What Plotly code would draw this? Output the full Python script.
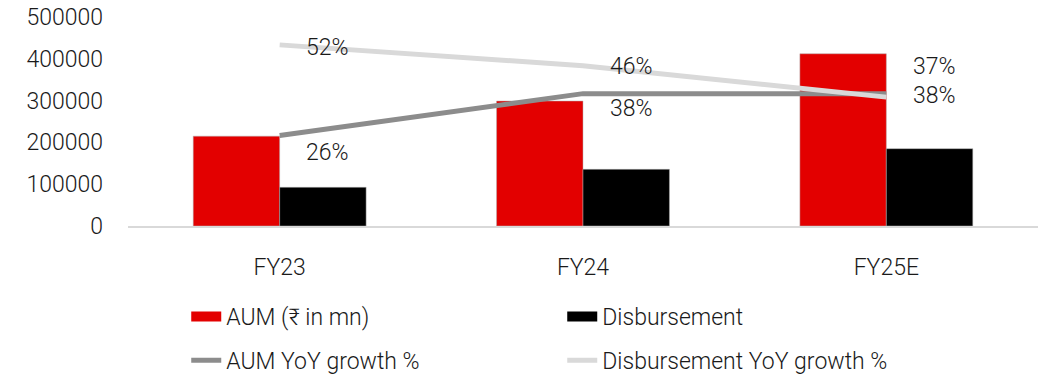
import plotly.graph_objects as go


# === Data ===

years = ["FY23", "FY24", "FY25E"]
aum = [215000, 299000, 412000]
disbursement = [92600, 135600, 185000]
aum_growth = [0.26, 0.38, 0.38]
disb_growth = [0.52, 0.46, 0.37]

# label offsets (px) for the growth labels: (xshift, yshift)
aum_label_shift = [(48, -17), (48, -15), (48, -2)]
disb_label_shift = [(48, -3), (48, -1), (48, 31)]


# === Figure ===

FONT = dict(family="Roboto, Liberation Sans, Arial, sans-serif", size=23,
            color="#1a1a1a", weight=300)

fig = go.Figure()

fig.add_trace(go.Bar(
    x=years, y=aum, name="AUM (₹ in mn)", showlegend=False,
    marker=dict(color="#E30000", line=dict(color="#b0b0b0", width=0.5)),
))
fig.add_trace(go.Bar(
    x=years, y=disbursement, name="Disbursement", showlegend=False,
    marker=dict(color="#000000", line=dict(color="#b0b0b0", width=0.5)),
))

# legend swatches drawn as wide flat rectangles, like the source
fig.add_trace(go.Scatter(
    x=[None], y=[None], name="AUM (₹ in mn)", mode="lines",
    line=dict(color="#E30000", width=14), legend="legend",
))
fig.add_trace(go.Scatter(
    x=[None], y=[None], name="Disbursement", mode="lines",
    line=dict(color="#000000", width=14), legend="legend",
))

fig.add_trace(go.Scatter(
    x=years, y=aum_growth, name="AUM YoY growth %", yaxis="y2",
    mode="lines", line=dict(color="#8C8C8C", width=5),
    legend="legend2",
))
fig.add_trace(go.Scatter(
    x=years, y=disb_growth, name="Disbursement YoY growth %", yaxis="y2",
    mode="lines", line=dict(color="#D9D9D9", width=5),
    legend="legend2",
))

annotations = []
for vals, shifts in ((aum_growth, aum_label_shift), (disb_growth, disb_label_shift)):
    for yr, v, (dx, dy) in zip(years, vals, shifts):
        annotations.append(dict(
            x=yr, y=v, xref="x", yref="y2", text=f"{round(v * 100)}%",
            showarrow=False, xshift=dx, yshift=dy, font=FONT,
        ))

fig.update_layout(
    width=1043,
    height=379,
    font=FONT,
    plot_bgcolor="#FFFFFF",
    paper_bgcolor="#FFFFFF",
    margin=dict(l=128, r=5, t=17, b=153, autoexpand=False),
    barmode="group",
    bargap=0.43,
    bargroupgap=0,
    xaxis=dict(
        showgrid=False,
        showline=True,
        linecolor="#D9D9D9",
        linewidth=1.5,
        ticks="",
        ticklabelstandoff=20,
        automargin=False,
    ),
    yaxis=dict(
        range=[0, 500000],
        dtick=100000,
        showgrid=False,
        zeroline=False,
        tickformat="d",
        ticklabelstandoff=24,
        automargin=False,
    ),
    yaxis2=dict(
        overlaying="y",
        range=[0, 0.6],
        visible=False,
    ),
    annotations=annotations,
    legend=dict(
        orientation="h",
        x=0.064, xanchor="left",
        y=-0.33, yanchor="top",
        entrywidth=331,
        font=FONT,
        bgcolor="rgba(0,0,0,0)",
    ),
    legend2=dict(
        orientation="h",
        x=0.064, xanchor="left",
        y=-0.54, yanchor="top",
        entrywidth=331,
        font=FONT,
        bgcolor="rgba(0,0,0,0)",
    ),
)

# drop the default 8px page margin so the figure fills the window exactly
fig.write_html("out.html", config={"displayModeBar": False},
               post_script="document.body.style.margin='0';")
